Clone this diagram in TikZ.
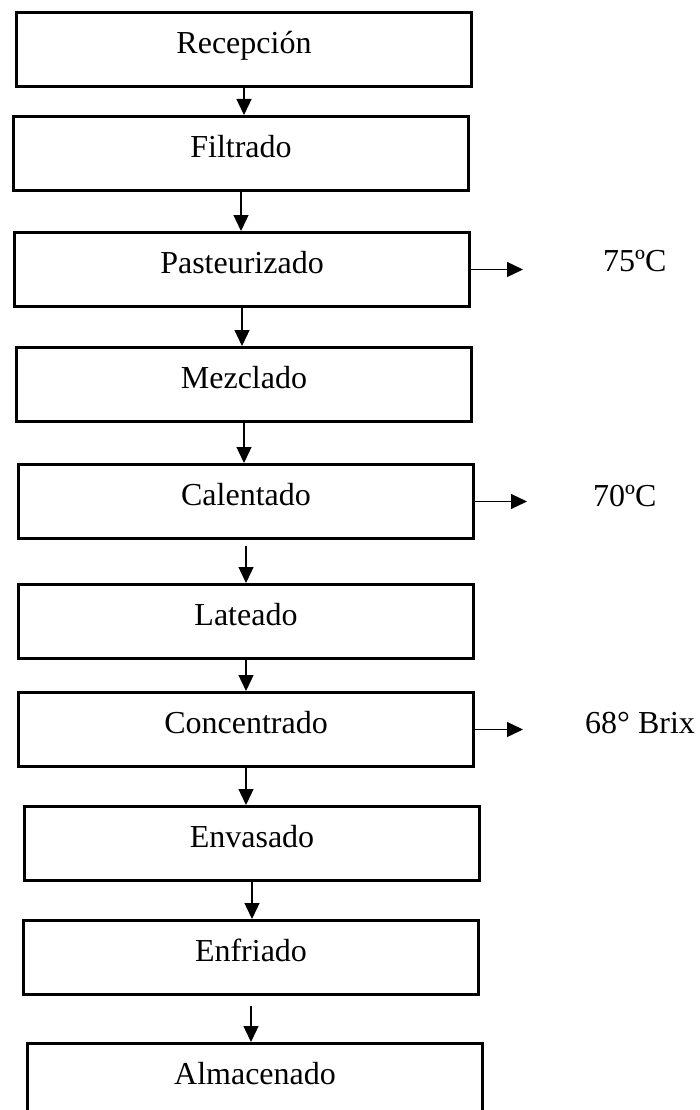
\documentclass[tikz,border=0pt]{standalone}
\usepackage{fontspec}
\setmainfont{Liberation Serif}
\usetikzlibrary{arrows.meta}

\tikzset{
  caja/.style={draw, line width=3pt, anchor=north west, minimum width=455pt,
    inner xsep=0pt, inner ysep=0pt, text height=41pt, text depth=33pt,
    font=\fontsize{32}{36}\selectfont},
  flecha/.style={line width=1.3pt, -{Triangle[length=16pt,width=15pt]}},
  dato/.style={anchor=base west, inner sep=0pt, font=\fontsize{32}{36}\selectfont}
}

\begin{document}
\begin{tikzpicture}[x=1pt,y=-1pt]
    \useasboundingbox (0,0) rectangle (700,1110);

    \node[caja] (rec) at (15,11) {Recepción};
    \node[caja] (fil) at (12,115) {Filtrado};
    \node[caja] (pas) at (13,231) {Pasteurizado};
    \node[caja] (mez) at (15,346) {Mezclado};
    \node[caja] (cal) at (17,463) {Calentado};
    \node[caja] (lat) at (17,583) {Lateado};
    \node[caja] (con) at (17,691) {Concentrado};
    \node[caja] (env) at (23,805) {Envasado};
    \node[caja] (enf) at (22,919) {Enfriado};
    \node[caja] (alm) at (26,1042) {Almacenado};

    \node[dato] (t75) at (603,271) {75ºC};
    \node[dato] (t70) at (593,506) {70ºC};
    \node[dato] (brix) at (585,733) {68° Brix};

    \foreach \a/\b in {rec/fil,fil/pas,pas/mez,mez/cal,lat/con,con/env,env/enf}
      \draw[flecha] (\a.south) -- (\a.south |- \b.north);
    \draw[flecha,shorten <=6pt] (cal.south) -- (cal.south |- lat.north);
    \draw[flecha,shorten <=10pt] (enf.south) -- (enf.south |- alm.north);

    \draw[flecha,shorten >=80pt] (pas.east) -- (pas.east -| t75.west);
    \draw[flecha,shorten >=66pt] (cal.east) -- (cal.east -| t70.west);
    \draw[flecha,shorten >=62pt] (con.east) -- (con.east -| brix.west);
  \end{tikzpicture}
\end{document}
